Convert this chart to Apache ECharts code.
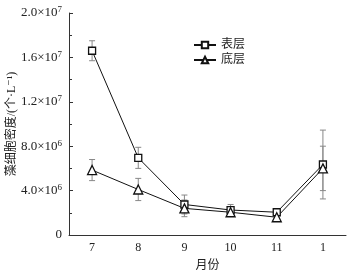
<!DOCTYPE html>
<html>
<head>
<meta charset="utf-8">
<script src="https://cdn.jsdelivr.net/npm/echarts@6/dist/echarts.min.js"></script>
<style>
html, body { margin: 0; padding: 0; background: #fff; }
#main { width: 352px; height: 270px; }
</style>
</head>
<body>
<div id="main"></div>
<script>
// 月份
var months = ['7', '8', '9', '10', '11', '1'];
// 表层
var surface = [16.6e6, 6.95e6, 2.75e6, 2.25e6, 2.05e6, 6.35e6];
var surfaceErr = [0.9e6, 0.95e6, 0.85e6, 0.5e6, 0.3e6, 3.1e6];
// 底层
var bottom = [5.85e6, 4.1e6, 2.4e6, 2.05e6, 1.6e6, 6.0e6];
var bottomErr = [0.95e6, 1.0e6, 0.75e6, 0.35e6, 0.35e6, 2.0e6];

var serif = 'Liberation Serif, DejaVu Serif, Noto Sans CJK SC';

function errData(vals, errs) {
	return vals.map(function (v, i) { return [i, v - errs[i], v + errs[i]]; });
}

function renderErr(params, api) {
	var x = api.value(0);
	var lo = api.coord([x, api.value(1)]);
	var hi = api.coord([x, api.value(2)]);
	var w = 3;
	var style = { stroke: '#888', lineWidth: 1 };
	return {
		type: 'group',
		children: [
			{ type: 'line', shape: { x1: lo[0], y1: lo[1], x2: hi[0], y2: hi[1] }, style: style },
			{ type: 'line', shape: { x1: lo[0] - w, y1: lo[1], x2: lo[0] + w, y2: lo[1] }, style: style },
			{ type: 'line', shape: { x1: hi[0] - w, y1: hi[1], x2: hi[0] + w, y2: hi[1] }, style: style }
		]
	};
}

var myChart = echarts.init(document.getElementById('main'));
var option = {
	animation: false,
	grid: { left: 69, right: 6, top: 13, bottom: 35, outerBoundsMode: 'none' },
	legend: {
		orient: 'vertical',
		left: 188,
		top: 34,
		itemWidth: 22,
		itemHeight: 8,
		itemGap: 3,
		data: ['表层', '底层'],
		textStyle: { fontFamily: serif, fontSize: 12, color: '#222' }
	},
	xAxis: {
		type: 'category',
		data: months,
		name: '月份',
		nameLocation: 'middle',
		nameGap: 25,
		nameTextStyle: { fontFamily: serif, fontSize: 12, color: '#222' },
		axisLine: { lineStyle: { color: '#333', width: 1 } },
		axisTick: { inside: true, alignWithLabel: true, length: 4, lineStyle: { color: '#333' } },
		axisLabel: { fontFamily: serif, fontSize: 12, color: '#222', margin: 7 }
	},
	yAxis: {
		type: 'value',
		min: 0,
		max: 2e7,
		interval: 4e6,
		name: '藻细胞密度/(个·L⁻¹)',
		nameLocation: 'middle',
		nameRotate: 90,
		nameGap: 51,
		nameMoveOverlap: false,
		nameTextStyle: { fontFamily: serif, fontSize: 12, color: '#222' },
		splitLine: { show: false },
		axisLine: { show: true, lineStyle: { color: '#333', width: 1 } },
		axisTick: { show: true, inside: true, length: 4, lineStyle: { color: '#333' } },
		minorTick: { show: true, splitNumber: 2, length: 3, lineStyle: { color: '#333' } },
		axisLabel: {
			fontFamily: serif, fontSize: 13, color: '#222', margin: 7,
			formatter: function (v) {
				if (v === 0) return '0';
				var e = Math.floor(Math.log10(v) + 1e-9);
				var m = (v / Math.pow(10, e)).toFixed(1);
				return m + '×10{s|' + e + '}';
			},
			rich: { s: { fontSize: 9, verticalAlign: 'top', padding: [0, 0, 6, 0], fontFamily: serif } }
		}
	},
	series: [
		{
			type: 'custom',
			renderItem: renderErr,
			data: errData(surface, surfaceErr),
			z: 1,
			silent: true
		},
		{
			type: 'custom',
			renderItem: renderErr,
			data: errData(bottom, bottomErr),
			z: 1,
			silent: true
		},
		{
			name: '表层',
			type: 'line',
			data: surface,
			symbol: 'rect',
			symbolSize: 7,
			lineStyle: { color: '#111', width: 1 },
			itemStyle: { color: '#fff', borderColor: '#111', borderWidth: 1.3 },
			z: 3
		},
		{
			name: '底层',
			type: 'line',
			data: bottom,
			symbol: 'triangle',
			symbolSize: 9,
			lineStyle: { color: '#111', width: 1 },
			itemStyle: { color: '#fff', borderColor: '#111', borderWidth: 1.3 },
			z: 3
		}
	]
};
myChart.setOption(option);
</script>
</body>
</html>
